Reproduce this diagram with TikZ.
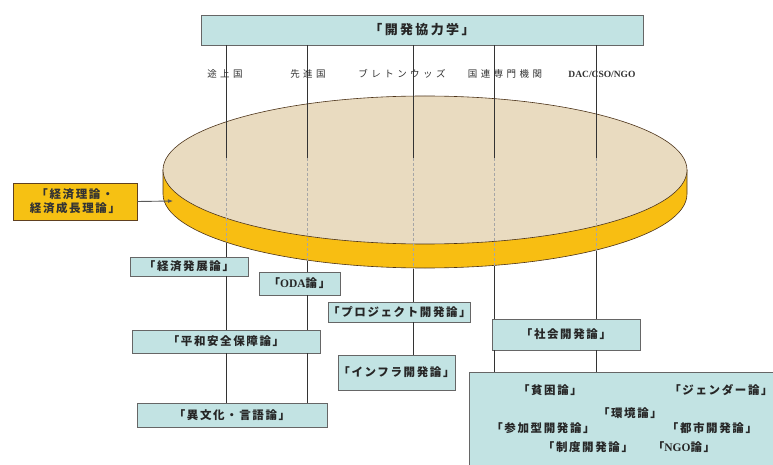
\documentclass[tikz,border=0pt]{standalone}
\usepackage{fontspec}
\usetikzlibrary{arrows.meta}
\newfontfamily\jpbox{Noto Sans CJK JP}[LetterSpace=14]
\newfontfamily\jptitle{Noto Sans CJK JP}[LetterSpace=18]
\newfontfamily\jpsmall{Noto Sans CJK JP}[LetterSpace=36]
\newfontfamily\latbox{Liberation Serif}
\definecolor{boxc}{HTML}{C2E3E3}
\definecolor{rimc}{HTML}{F8BE12}
\definecolor{discc}{HTML}{E9DBC0}
\definecolor{ironc}{HTML}{F6C113}
\definecolor{linec}{HTML}{333333}
\begin{document}
\begin{tikzpicture}[x=1pt,y=-1pt,
  box/.style={draw=black!60, line width=0.7pt, fill=boxc, inner sep=0pt,
    font=\jpbox\fontsize{11.5}{13}\selectfont\bfseries, text=black!85},
  toplab/.style={font=\jpsmall\fontsize{9.5}{11}\selectfont, text=black!80, inner sep=0pt},
  intext/.style={font=\jpbox\fontsize{11.5}{13}\selectfont\bfseries, text=black!85, inner sep=0pt},
  vline/.style={draw=linec, line width=0.8pt},
  dline/.style={draw=black!35, line width=0.6pt, dash pattern=on 3pt off 2pt},
  discedge/.style={draw=black!60!brown, line width=0.6pt}]
\useasboundingbox (0,0) rectangle (773,465);

% title
\node[box, minimum width=442pt, minimum height=30pt,
  font=\jptitle\fontsize{13}{14}\selectfont\bfseries] (title) at (422,30) {「開発協力学」};

% top labels
\node[toplab] (lab1) at (225,74) {途上国};
\node[toplab] (lab2) at (308,74) {先進国};
\node[toplab] (lab3) at (402,74) {ブレトンウッズ};
\node[toplab] (lab4) at (505,74) {国連専門機関};
\node[toplab, font=\latbox\fontsize{9.5}{10}\selectfont\bfseries] (lab5) at (602,74) {DAC/CSO/NGO};

% disc
\filldraw[fill=rimc, discedge] (163,170) -- (163,194)
  arc[start angle=180, end angle=0, x radius=262, y radius=74] -- (687,170) -- cycle;
\filldraw[fill=discc, discedge] (425,170) ellipse[x radius=262, y radius=74];

% line coordinates
\coordinate (t1) at (226,158); \coordinate (r1) at (226,243);
\coordinate (t2) at (307,158); \coordinate (r2) at (307,261);
\coordinate (t3) at (413,158); \coordinate (r3) at (413,269);
\coordinate (t4) at (494,158); \coordinate (r4) at (494,266);
\coordinate (t5) at (596,158); \coordinate (r5) at (596,251);
\coordinate (discL) at (173,201);

% boxes
\node[draw=black!50!brown, line width=0.7pt, fill=ironc, minimum width=124pt, minimum height=37pt,
  inner sep=0pt, align=center, font=\jpbox\fontsize{11.5}{14}\selectfont\bfseries, text=black!80]
  (riron) at (75,201.5) {「経済理論・\\経済成長理論」};
\node[box, minimum width=118pt, minimum height=19pt] (hatten) at (189,266.5) {「経済発展論」};
\node[box, minimum width=81pt, minimum height=23pt] (oda) at (299.5,283.5) {「{\latbox\bfseries ODA}論」};
\node[box, minimum width=135pt, minimum height=20pt] (proj) at (399.5,312) {「プロジェクト開発論」};
\node[box, minimum width=188pt, minimum height=23pt] (heiwa) at (226,341.5) {「平和安全保障論」};
\node[box, minimum width=117pt, minimum height=35pt] (infra) at (396.5,372.5) {「インフラ開発論」};
\node[box, minimum width=190pt, minimum height=24pt] (ibunka) at (232,415) {「異文化・言語論」};
\node[box, minimum width=148pt, minimum height=31pt] (shakai) at (566,334.5) {「社会開発論」};
\node[box, minimum width=306pt, minimum height=98pt] (big) at (622,421) {};

% texts in big box
\node[intext] (hinkon) at (550,390) {「貧困論」};
\node[intext] (gender) at (721,390) {「ジェンダー論」};
\node[intext] (kankyo) at (630,413) {「環境論」};
\node[intext] (sanka) at (543,428) {「参加型開発論」};
\node[intext] (toshi) at (712,428) {「都市開発論」};
\node[intext] (seido) at (588,447) {「制度開発論」};
\node[intext] (ngo) at (684,447) {「{\latbox\bfseries NGO}論」};

% vertical lines above disc
\draw[vline] (title.south -| t1) -- (t1);
\draw[vline] (title.south -| t2) -- (t2);
\draw[vline] (title.south -| t3) -- (t3);
\draw[vline] (title.south -| t4) -- (t4);
\draw[vline] (title.south -| t5) -- (t5);
% hidden parts
\draw[dline] (t1) -- (r1);
\draw[dline] (t2) -- (r2);
\draw[dline] (t3) -- (r3);
\draw[dline] (t4) -- (r4);
\draw[dline] (t5) -- (r5);
% below disc
\draw[vline] (r1) -- (hatten.north -| r1);
\draw[vline] (hatten.south -| r1) -- (heiwa.north -| r1);
\draw[vline] (heiwa.south -| r1) -- (ibunka.north -| r1);
\draw[vline] (r2) -- (oda.north -| r2);
\draw[vline] (oda.south -| r2) -- (heiwa.north -| r2);
\draw[vline] (heiwa.south -| r2) -- (ibunka.north -| r2);
\draw[vline] (r3) -- (proj.north -| r3);
\draw[vline] (proj.south -| r3) -- (infra.north -| r3);
\draw[vline] (r4) -- (shakai.north -| r4);
\draw[vline] (shakai.south -| r4) -- (big.north -| r4);
\draw[vline] (r5) -- (shakai.north -| r5);
\draw[vline] (shakai.south -| r5) -- (big.north -| r5);

% arrow
\draw[draw=black!65, line width=0.9pt, -{Latex[length=5pt,width=4pt]}] (riron.east) -- (discL);
\end{tikzpicture}
\end{document}
